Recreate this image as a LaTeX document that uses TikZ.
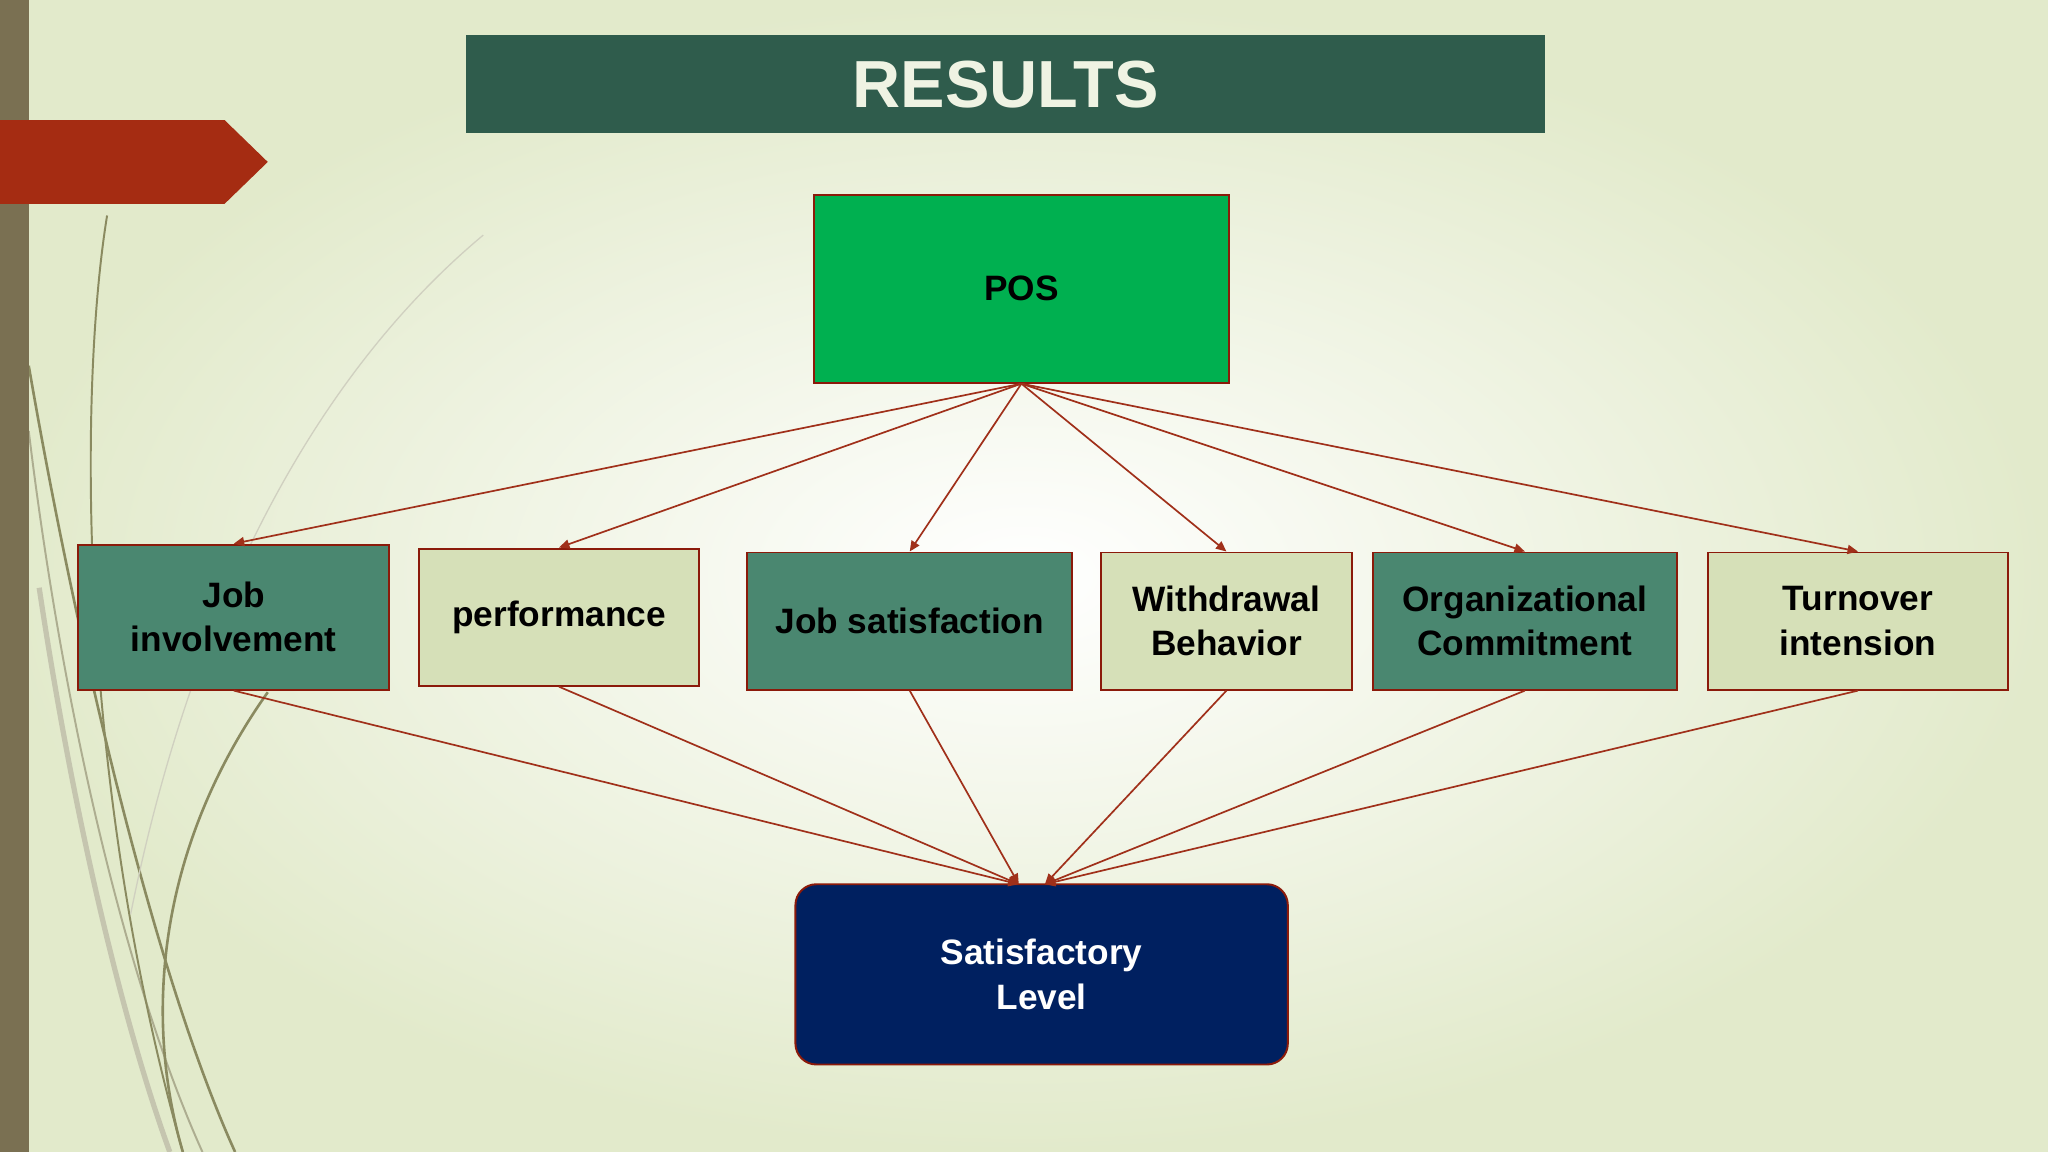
\documentclass[tikz,border=0pt]{standalone}
\usepackage{fontspec}
\setmainfont{Liberation Sans}
\usetikzlibrary{arrows.meta}
\definecolor{bgout}{HTML}{E2EACB}
\definecolor{barbrown}{HTML}{7A7052}
\definecolor{redarrow}{HTML}{A52C12}
\definecolor{titlebg}{HTML}{2F5C4C}
\definecolor{posgreen}{HTML}{00B050}
\definecolor{edge}{HTML}{8B1A0A}
\definecolor{teal}{HTML}{4A8770}
\definecolor{light}{HTML}{D6E0B8}
\definecolor{navy}{HTML}{002060}
\definecolor{conn}{HTML}{A0301A}
\definecolor{curve}{HTML}{8A8A60}
\begin{document}
\begin{tikzpicture}[x=1pt,y=-1pt,
  box/.style={draw=edge,line width=1.5pt,inner sep=0pt,align=center,font=\fontsize{27}{34}\selectfont\bfseries},
  tbox/.style={box,fill=teal,text=black},
  lbox/.style={box,fill=light,text=black},
  conn/.style={draw=conn,line width=1.3pt,-{Triangle[length=8pt,width=7pt]}}]
\useasboundingbox (0,0) rectangle (1568,882);
\shade[inner color=white,outer color=bgout] (0,0) rectangle (1568,882);
% decorative curves
\draw[curve,line width=2pt] (22,280) .. controls (60,500) and (120,750) .. (180,882);
\draw[curve!70,line width=1.5pt] (22,330) .. controls (50,560) and (100,760) .. (155,882);
\draw[curve!50,line width=4pt] (30,450) .. controls (60,650) and (100,800) .. (130,882);
\draw[curve,line width=1.5pt] (82,165) .. controls (60,300) and (60,600) .. (140,882);
\draw[curve,line width=2pt] (205,530) .. controls (120,650) and (110,780) .. (140,882);
\draw[curve!40,line width=1pt] (370,180) .. controls (250,280) and (150,450) .. (100,700);
\fill[barbrown] (0,0) rectangle (22,882);
\fill[redarrow] (0,92) -- (172,92) -- (205,124) -- (172,156) -- (0,156) -- cycle;
\node[fill=titlebg,minimum width=826pt,minimum height=75pt,inner sep=0pt,text=light!40!white,font=\fontsize{51}{60}\selectfont\bfseries] (title) at (770,64.5) {RESULTS};
\node[box,fill=posgreen,minimum width=318pt,minimum height=144pt] (pos) at (782,221) {POS};
\node[tbox,minimum width=238pt,minimum height=111pt] (b1) at (179,472.5) {Job\\involvement};
\node[lbox,minimum width=214pt,minimum height=105pt] (b2) at (428,472.5) {performance};
\node[tbox,minimum width=249pt,minimum height=105pt] (b3) at (696.5,475.5) {Job satisfaction};
\node[lbox,minimum width=192pt,minimum height=105pt] (b4) at (939,475.5) {Withdrawal\\Behavior};
\node[tbox,minimum width=233pt,minimum height=105pt] (b5) at (1167.5,475.5) {Organizational\\Commitment};
\node[lbox,minimum width=229pt,minimum height=105pt] (b6) at (1422.5,475.5) {Turnover\\intension};
\node[box,fill=navy,text=white,rounded corners=16pt,minimum width=377pt,minimum height=138pt] (sat) at (797.5,746) {Satisfactory\\Level};
\coordinate (s1) at (780,677);
\coordinate (s2) at (800,677);
\foreach \b in {b1,b2,b3,b4,b5,b6} \draw[conn] (pos.south) -- (\b.north);
\foreach \b in {b1,b2,b3} \draw[conn] (\b.south) -- (s1);
\foreach \b in {b4,b5,b6} \draw[conn] (\b.south) -- (s2);
\end{tikzpicture}
\end{document}
